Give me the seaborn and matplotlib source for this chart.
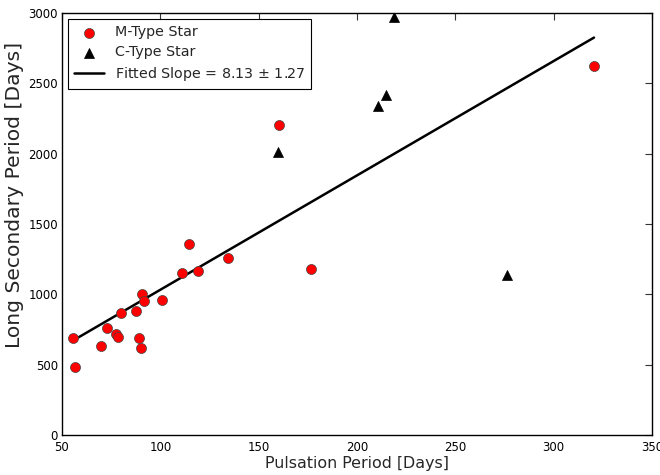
import matplotlib
matplotlib.use("Agg")
import matplotlib.pyplot as plt
import seaborn as sns
import numpy as np
import pandas as pd

# Data
m_period = [55.6, 56.4, 69.8, 72.8, 77.5, 78.6, 80.0, 87.6, 89.0, 90.0, 90.5, 91.5,
            101.0, 110.8, 114.7, 119.0, 134.6, 160.3, 176.5, 320.5]
m_lsp = [689, 481, 632, 758, 716, 694, 866, 882, 692, 620, 1002, 952,
         957, 1153, 1357, 1163, 1258, 2205, 1183, 2623]
c_period = [160.0, 210.5, 214.6, 218.9, 276.4]
c_lsp = [2009, 2338, 2417, 2972, 1137]
fit_slope = 8.13
fit_err = 1.27
fit_intercept = 219.5

sns.set_theme(style="white")
plt.rcParams['font.family'] = ['DejaVu Sans']

fig = plt.figure(figsize=(6.6, 4.75), dpi=100)
ax = fig.add_axes([62/660, 1-435/475, 590/660, 422/475])

m_df = pd.DataFrame({"period": m_period, "lsp": m_lsp})
c_df = pd.DataFrame({"period": c_period, "lsp": c_lsp})
fit_x = np.array([min(m_period), max(m_period)])
fit_df = pd.DataFrame({"period": fit_x, "lsp": fit_slope * fit_x + fit_intercept})

sns.scatterplot(data=m_df, x="period", y="lsp", ax=ax, color="red", marker="o",
                s=52, edgecolor="#444444", linewidth=0.5, label="M-Type Star", zorder=3)
sns.scatterplot(data=c_df, x="period", y="lsp", ax=ax, color="black", marker="^",
                s=52, edgecolor="black", linewidth=0.5, label="C-Type Star", zorder=3)
sns.lineplot(data=fit_df, x="period", y="lsp", ax=ax, color="black", linewidth=1.8,
             label=f"Fitted Slope = {fit_slope:.2f} $\\pm$ {fit_err:.2f}", zorder=2)

ax.set_xlim(50, 350)
ax.set_ylim(0, 3000)
ax.set_xticks(np.arange(50, 351, 50))
ax.set_yticks(np.arange(0, 3001, 500))
ax.tick_params(direction="in", length=5, width=0.8, top=True, right=True,
               labelsize=8.5, colors="#333333", labelcolor="black")
ax.tick_params(axis="x", pad=4)
ax.tick_params(axis="y", pad=3)
for sp in ax.spines.values():
    sp.set_color("black")
    sp.set_linewidth(1.0)
ax.set_xlabel("Pulsation Period [Days]", fontsize=11.4)
ax.set_ylabel("Long Secondary Period [Days]", fontsize=14.6)
ax.xaxis.set_label_coords(0.5, -0.05)
ax.yaxis.set_label_coords(-0.064, 0.569)

leg = ax.legend(loc="upper left", fontsize=10.3, frameon=True, fancybox=False,
                edgecolor="black", framealpha=1, borderpad=0.42, handlelength=2.05,
                handletextpad=0.75, labelspacing=0.42, borderaxespad=0.45)
leg.get_frame().set_linewidth(0.8)

fig.savefig("out.png", dpi=100)
